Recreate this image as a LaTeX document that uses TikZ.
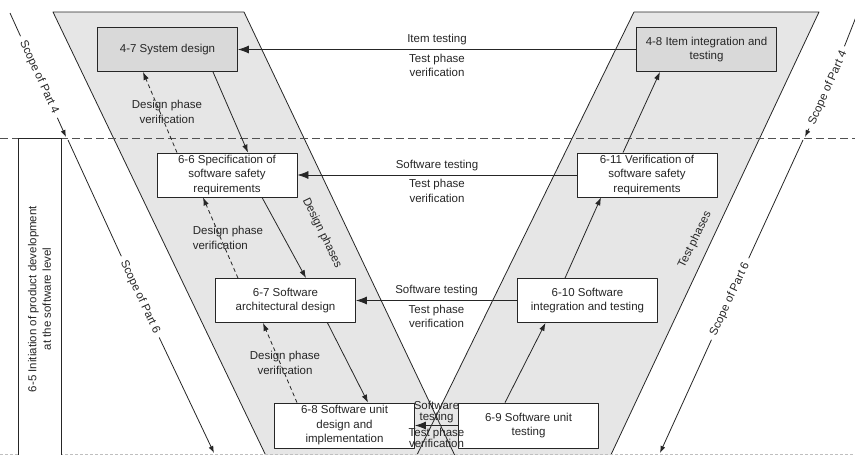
\documentclass[tikz,border=0pt]{standalone}
\usepackage{fontspec}
\setmainfont{Liberation Sans}
\usetikzlibrary{arrows.meta}
\definecolor{bandgray}{HTML}{E6E6E6}
\definecolor{boxgray}{HTML}{D9D9D9}
\definecolor{inkgray}{HTML}{262626}
\tikzset{
  txt/.style={font=\fontsize{11.5}{14.5}\selectfont, text=inkgray, inner sep=1pt},
  box/.style={txt, draw=inkgray, fill=white, line width=0.8pt, minimum width=140pt, minimum height=44pt, align=center},
  graybox/.style={box, fill=boxgray},
  flow/.style={draw=inkgray, line width=0.8pt, -{Latex[length=11pt,width=8pt]}},
  step arrow/.style={draw=inkgray, line width=0.8pt, -{Latex[length=8pt,width=5.5pt]}},
  verif/.style={step arrow, dash pattern=on 4pt off 3pt},
  scopelbl/.style={txt, inner sep=5pt},
  scope arrow/.style={draw=inkgray, line width=0.8pt, -{Latex[length=7pt,width=5pt]}},
  band/.style={fill=bandgray}
}
\begin{document}
\begin{tikzpicture}[x=1pt, y=-1pt, line join=round]
	\useasboundingbox (0,0) rectangle (855,455);
	% V bands
	\fill[band] (53,12) -- (244,12) -- (457,460) -- (268,460) -- cycle;
	\fill[band] (634,12) -- (819,12) -- (608.5,460) -- (414.5,460) -- cycle;
	\draw[inkgray, line width=0.8pt] (268,460) -- (53,12) -- (244,12) -- (457,460);
	\draw[inkgray, line width=0.8pt] (414.5,460) -- (634,12) -- (819,12) -- (608.5,460);
	% boundary between Part 4 and Part 6
	\draw[inkgray!80, line width=0.8pt, dash pattern=on 8pt off 4pt] (0,138) -- (855,138);
	\draw[gray!50, line width=0.8pt, dash pattern=on 3pt off 2pt] (0,454) -- (855,454);
	% 6-5 initiation
	\node[txt, draw=inkgray, fill=white, line width=0.8pt, rotate=90, minimum width=322pt, minimum height=43pt, align=center]
		(init) at (39.5,299) {6-5 Initiation of product development\\at the software level};
	% work products
	\node[graybox] (sys)   at (167.5,49.5) {4-7 System design};
	\node[graybox] (item)  at (706.5,49.5) {4-8 Item integration and\\testing};
	\node[box]     (spec)  at (227,175)    {6-6 Specification of\\software safety\\requirements};
	\node[box]     (veri)  at (647,175)    {6-11 Verification of\\software safety\\requirements};
	\node[box]     (arch)  at (285.5,300.5) {6-7 Software\\architectural design};
	\node[box]     (integ) at (587.5,300.5) {6-10 Software\\integration and testing};
	\node[box, minimum height=45pt] (unitd) at (344.5,425.5) {6-8 Software unit\\design and\\implementation};
	\node[box, minimum height=45pt] (unitt) at (528.5,425.5) {6-9 Software unit\\testing};
	% design phases (downwards)
	\draw[step arrow] ([xshift=45.5pt]sys.south) -- ([xshift=21pt]spec.north);
	\draw[step arrow] ([xshift=35pt]spec.south) -- ([xshift=20.5pt]arch.north);
	\draw[step arrow] ([xshift=42pt]arch.south) -- ([xshift=23.5pt]unitd.north);
	\draw[verif] ([xshift=-50pt]spec.north) -- ([xshift=-24.5pt]sys.south);
	\draw[verif] ([xshift=-47.5pt]arch.north) -- ([xshift=-24pt]spec.south);
	\draw[verif] ([xshift=-47.5pt]unitd.north) -- ([xshift=-22.5pt]arch.south);
	\node[txt, align=center] (dv1) at (167,112) {Design phase\\verification};
	\node[txt, align=left]   (dv2) at (228,238) {Design phase\\verification};
	\node[txt, align=center] (dv3) at (285,363) {Design phase\\verification};
	% test phases (upwards)
	\draw[step arrow] ([xshift=-23.5pt]unitt.north) -- ([xshift=-42pt]integ.south);
	\draw[step arrow] ([xshift=-22.5pt]integ.north) -- ([xshift=-46pt]veri.south);
	\draw[step arrow] ([xshift=-24pt]veri.north) -- ([xshift=-46.5pt]item.south);
	% verification across the V
	\draw[flow] (item) -- (sys)
		node[txt, midway, above=3pt] {Item testing}
		node[txt, midway, below=3pt, align=center] {Test phase\\verification};
	\draw[flow] (veri) -- (spec)
		node[txt, midway, above=3pt] {Software testing}
		node[txt, midway, below=3pt, align=center] {Test phase\\verification};
	\draw[flow] (integ) -- (arch)
		node[txt, midway, above=3pt] {Software testing}
		node[txt, midway, below=3pt, align=center] {Test phase\\verification};
	\draw[flow] (unitt) -- (unitd)
		node[txt, midway, above=1pt, align=center, font=\fontsize{11.5}{11.5}\selectfont] {Software\\testing}
		node[txt, midway, below=1pt, align=center, font=\fontsize{11.5}{11.5}\selectfont] {Test phase\\verification};
	% phase labels
	\node[txt, rotate=-64] (dph) at (322,233) {Design phases};
	\node[txt, rotate=64]  (tph) at (695,240) {Test phases};
	% scopes
	\coordinate (p4lt) at (10,13);  \coordinate (p4lb) at (66,137);
	\coordinate (p6lt) at (68,140); \coordinate (p6lb) at (214,453);
	\coordinate (p4rt) at (856,17); \coordinate (p4rb) at (805,137);
	\coordinate (p6rt) at (803,140); \coordinate (p6rb) at (660,453);
	\node[scopelbl, rotate=-65.5] (p4l) at (39,77)  {Scope of Part 4};
	\node[scopelbl, rotate=-65]   (p6l) at (140,297) {Scope of Part 6};
	\node[scopelbl, rotate=66]    (p4r) at (828,88)  {Scope of Part 4};
	\node[scopelbl, rotate=65]    (p6r) at (730,299) {Scope of Part 6};
	\foreach \l/\a/\b in {p4l/p4lt/p4lb, p6l/p6lt/p6lb, p4r/p4rt/p4rb, p6r/p6rt/p6rb}
		\draw[scope arrow] (\l) -- (\a) (\l) -- (\b);
\end{tikzpicture}
\end{document}
